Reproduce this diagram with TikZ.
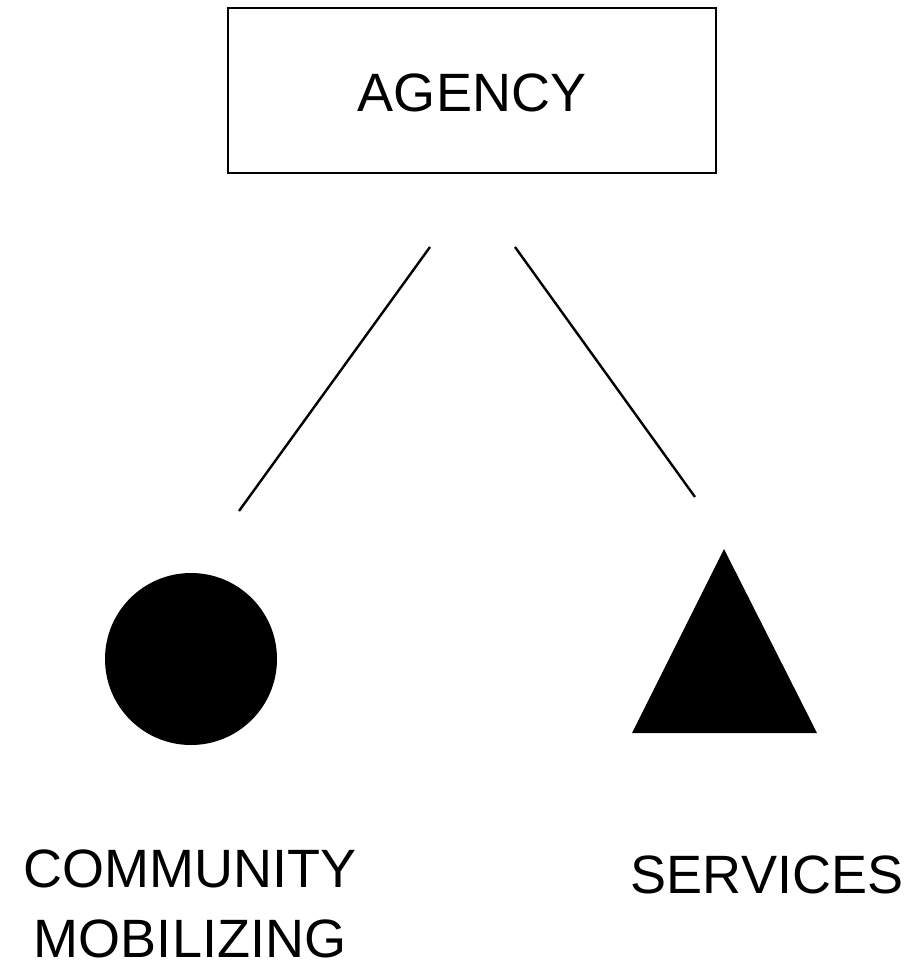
\documentclass[tikz,border=0pt]{standalone}
\usepackage{fontspec}
\setmainfont{Liberation Sans}
\usepackage{tikz}
\usetikzlibrary{positioning,shapes,calc}

\tikzset{
    label text/.style={font=\fontsize{27}{31}\selectfont, inner sep=0pt},
    link/.style={draw=black, line width=1.2pt},
}

\begin{document}
\begin{tikzpicture}[x=0.5pt, y=-0.5pt]
        \useasboundingbox (0,0) rectangle (906,970);

        \node[draw, line width=1.2pt, minimum width=244pt, minimum height=82.5pt, label text, text height=21.6pt] (agency) at (472,90.5) {AGENCY};

        \fill (191,659) circle (43pt);
        \fill (724,549) -- (817,733) -- (632,733) -- cycle;

        \node[label text] (community) at (190,869) {COMMUNITY};
        \node[label text] (mobilizing) at (190,939) {MOBILIZING};
        \node[label text] (services) at (767,875) {SERVICES};

        \coordinate (l0) at (430,247);
        \coordinate (l1) at (239,511);
        \coordinate (r0) at (515,247);
        \coordinate (r1) at (695,497);

        \draw[link] (l0) -- (l1);
        \draw[link] (r0) -- (r1);
    \end{tikzpicture}
\end{document}
